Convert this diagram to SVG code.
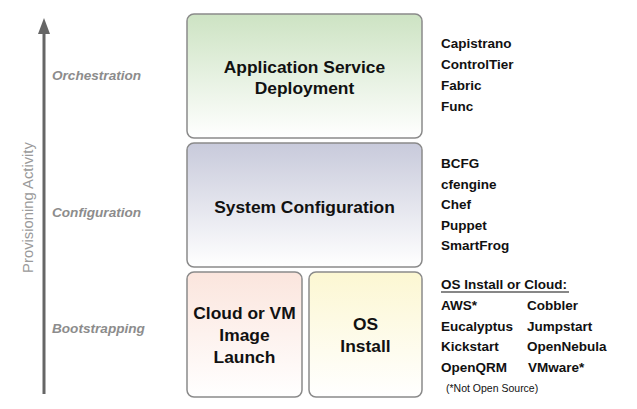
<svg xmlns="http://www.w3.org/2000/svg" width="637" height="409" viewBox="0 0 637 409">
<defs>
<linearGradient id="gGreen" x1="0" y1="0" x2="0" y2="1"><stop offset="0" stop-color="#cde3c3"/><stop offset="1" stop-color="#ffffff"/></linearGradient>
<linearGradient id="gBlue" x1="0" y1="0" x2="0" y2="1"><stop offset="0" stop-color="#c8cadb"/><stop offset="1" stop-color="#ffffff"/></linearGradient>
<linearGradient id="gPink" x1="0" y1="0" x2="0" y2="1"><stop offset="0" stop-color="#fbe5dd"/><stop offset="1" stop-color="#ffffff"/></linearGradient>
<linearGradient id="gYellow" x1="0" y1="0" x2="0" y2="1"><stop offset="0" stop-color="#fcf7d2"/><stop offset="1" stop-color="#ffffff"/></linearGradient>
</defs>
<style>
.box{stroke:#8a8a8a;stroke-width:1.5}
.title{font-family:"Liberation Sans",Arial,sans-serif;font-weight:bold;font-size:17.4px;fill:#111;text-anchor:middle}
.stage{font-family:"Liberation Sans",Arial,sans-serif;font-weight:bold;font-style:italic;font-size:13.6px;fill:#8c8c8c}
.tool{font-family:"Liberation Sans",Arial,sans-serif;font-weight:bold;font-size:13.5px;fill:#111}
.axis{font-family:"Liberation Sans",Arial,sans-serif;font-size:14.8px;fill:#9a9a9a}
</style>
<rect width="637" height="409" fill="#ffffff"/>
<g id="connectors">
<line x1="44" y1="394" x2="44" y2="30" stroke="#666666" stroke-width="3"/>
<polygon points="44,18 38,34 50,34" fill="#666666"/>
</g>
<text class="axis" transform="translate(33,207.5) rotate(-90)" text-anchor="middle">Provisioning Activity</text>
<text class="stage" x="52" y="80">Orchestration</text>
<text class="stage" x="52" y="217">Configuration</text>
<text class="stage" x="52" y="333">Bootstrapping</text>
<g id="node-app">
<rect class="box" x="187" y="14" width="235" height="124" rx="7" fill="url(#gGreen)"/>
<text class="title" x="304.5" y="73">Application Service</text>
<text class="title" x="304.5" y="94">Deployment</text>
</g>
<g id="node-sys">
<rect class="box" x="187" y="143" width="235" height="124" rx="7" fill="url(#gBlue)"/>
<text class="title" x="304.5" y="213">System Configuration</text>
</g>
<g id="node-cloud">
<rect class="box" x="187" y="272" width="115" height="125" rx="7" fill="url(#gPink)"/>
<text class="title" x="244.5" y="319">Cloud or VM</text>
<text class="title" x="244.5" y="341">Image</text>
<text class="title" x="244.5" y="363">Launch</text>
</g>
<g id="node-os">
<rect class="box" x="309" y="272" width="113" height="125" rx="7" fill="url(#gYellow)"/>
<text class="title" x="365.5" y="330">OS</text>
<text class="title" x="365.5" y="352">Install</text>
</g>
<g id="list-orch">
<text class="tool" x="441" y="48">Capistrano</text>
<text class="tool" x="441" y="69">ControlTier</text>
<text class="tool" x="441" y="90">Fabric</text>
<text class="tool" x="441" y="111">Func</text>
</g>
<g id="list-conf">
<text class="tool" x="441" y="168">BCFG</text>
<text class="tool" x="441" y="189">cfengine</text>
<text class="tool" x="441" y="209">Chef</text>
<text class="tool" x="441" y="230">Puppet</text>
<text class="tool" x="441" y="250">SmartFrog</text>
</g>
<g id="list-boot">
<text class="tool" x="441" y="289">OS Install or Cloud:</text>
<line x1="441" y1="292" x2="569" y2="292" stroke="#111" stroke-width="1.2"/>
<text class="tool" x="441" y="310">AWS*</text>
<text class="tool" x="441" y="331">Eucalyptus</text>
<text class="tool" x="441" y="351">Kickstart</text>
<text class="tool" x="441" y="372">OpenQRM</text>
<text class="tool" x="527" y="310">Cobbler</text>
<text class="tool" x="527" y="331">Jumpstart</text>
<text class="tool" x="527" y="351">OpenNebula</text>
<text class="tool" x="528" y="372">VMware*</text>
<text class="tool" x="446" y="392" style="font-size:10.5px;font-weight:normal">(*Not Open Source)</text>
</g>
</svg>
